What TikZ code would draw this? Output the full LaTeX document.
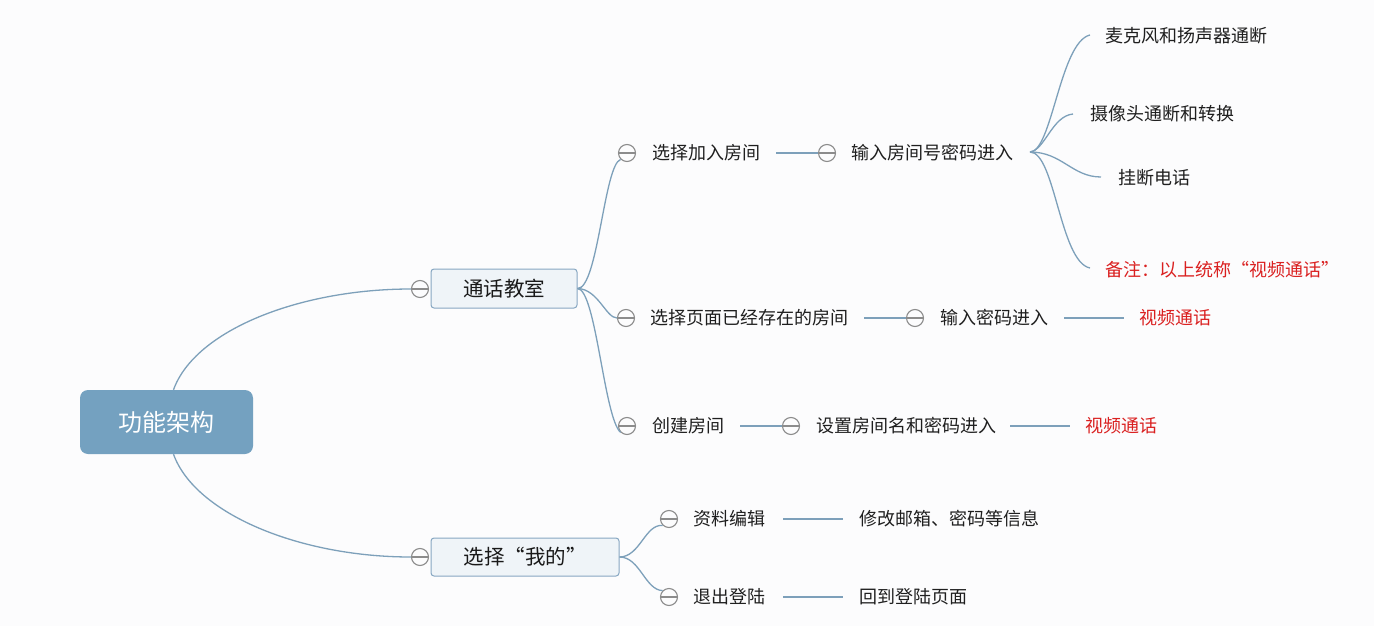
\documentclass[tikz,border=0pt]{standalone}
\usepackage{fontspec}
\newfontfamily\cjk{Noto Sans CJK SC}
\definecolor{bg}{RGB}{252,252,253}
\definecolor{lnk}{RGB}{125,160,186}
\definecolor{rootc}{RGB}{116,161,192}
\definecolor{boxf}{RGB}{239,244,248}
\definecolor{boxd}{RGB}{135,167,194}
\definecolor{cgray}{RGB}{140,140,140}
\definecolor{redt}{RGB}{218,32,32}
\tikzset{
  lk/.style={draw=lnk, line width=1.3pt},
  txt/.style={anchor=west, inner sep=0pt, font=\cjk\fontsize{18}{18}\selectfont, text=black!88},
  rtxt/.style={txt, text=redt},
  coll/.style={circle, draw=cgray, fill=bg, minimum size=17pt, inner sep=0pt, line width=1.1pt,
    path picture={\draw[cgray, line width=1.1pt] ([xshift=-8pt]path picture bounding box.center) -- ([xshift=8pt]path picture bounding box.center);}},
  topic/.style={draw=boxd, fill=boxf, rounded corners=3pt, line width=1pt, inner sep=0pt,
    font=\cjk\fontsize{20.5}{20.5}\selectfont, text=black!90},
  rootbox/.style={fill=rootc, rounded corners=8pt, inner sep=0pt, minimum width=173pt, minimum height=64pt,
    font=\cjk\fontsize{24}{24}\selectfont, text=white}
}
\begin{document}
\begin{tikzpicture}[x=1pt,y=-1pt]
\fill[bg] (0,0) rectangle (1374,626);
\useasboundingbox (0,0) rectangle (1374,626);

% root
\node[rootbox] (root) at (166.5,422) {功能架构};

% level 1
\node[topic, minimum width=146pt, minimum height=39pt] (t1) at (504,288.5) {通话教室};
\node[topic, minimum width=188pt, minimum height=38pt] (t2) at (525,557) {选择“我的”};
\node[coll] (c1) at (420,289) {};
\node[coll] (c2) at (420,557) {};

\draw[lk] ([xshift=7pt]root.north) .. controls (195,330) and (300,289) .. (c1.west);
\draw[lk] ([xshift=7pt]root.south) .. controls (195,514) and (300,557) .. (c2.west);

% level 2 under 通话教室
\node[coll] (c11) at (627,153) {};
\node[txt] (a1) at (652,153) {选择加入房间};
\node[coll] (c12) at (626,318) {};
\node[txt] (a2) at (650,318) {选择页面已经存在的房间};
\node[coll] (c13) at (627,426) {};
\node[txt] (a3) at (652,426) {创建房间};

\draw[lk] (t1.east) .. controls (598,289) and (604,165) .. (c11.south west);
\draw[lk] (t1.east) .. controls (598,289) and (606,318) .. (c12.west);
\draw[lk] (t1.east) .. controls (596,289) and (604,418) .. (c13.south west);

% branch 1
\coordinate (a1e) at (776,153);
\node[coll] (c111) at (827,153) {};
\node[txt] (b1) at (851,153) {输入房间号密码进入};
\draw[lk] (a1e) -- (c111.west);

\coordinate (b1e) at (1030,152);
\coordinate (d1s) at (1090,35);
\coordinate (d2s) at (1073,114);
\coordinate (d3s) at (1101,177);
\coordinate (d4s) at (1090,268);
\node[txt] (d1) at (1105,36) {麦克风和扬声器通断};
\node[txt] (d2) at (1090,114) {摄像头通断和转换};
\node[txt] (d3) at (1118,178) {挂断电话};
\node[rtxt] (d4) at (1105,270) {备注：以上统称“视频通话”};
\draw[lk] (b1e) .. controls (1052,152) and (1060,42) .. (d1s);
\draw[lk] (b1e) .. controls (1045,150) and (1052,116) .. (d2s);
\draw[lk] (b1e) .. controls (1062,152) and (1072,177) .. (d3s);
\draw[lk] (b1e) .. controls (1055,152) and (1060,262) .. (d4s);

% branch 2
\coordinate (a2e) at (864,318);
\node[coll] (c121) at (915,318) {};
\node[txt] (b2) at (940,318) {输入密码进入};
\draw[lk] (a2e) -- (c121.west);
\coordinate (b2e) at (1064,318);
\coordinate (e2s) at (1124,318);
\node[rtxt] (e2) at (1139,318) {视频通话};
\draw[lk] (b2e) -- (e2s);

% branch 3
\coordinate (a3e) at (740,426);
\node[coll] (c131) at (791,426) {};
\node[txt] (b3) at (816,426) {设置房间名和密码进入};
\draw[lk] (a3e) -- (c131.west);
\coordinate (b3e) at (1010,426);
\coordinate (e3s) at (1070,426);
\node[rtxt] (e3) at (1085,426) {视频通话};
\draw[lk] (b3e) -- (e3s);

% under 选择我的
\node[coll] (c21) at (669,519) {};
\node[txt] (f1) at (693,519) {资料编辑};
\node[coll] (c22) at (669,597) {};
\node[txt] (f2) at (693,597) {退出登陆};
\draw[lk] (t2.east) .. controls (640,557) and (645,524) .. (c21.south west);
\draw[lk] (t2.east) .. controls (640,557) and (645,590) .. (c22.north west);

\coordinate (f1e) at (783,519);
\coordinate (g1s) at (843,519);
\node[txt] (g1) at (859,519) {修改邮箱、密码等信息};
\draw[lk] (f1e) -- (g1s);
\coordinate (f2e) at (783,597);
\coordinate (g2s) at (843,597);
\node[txt] (g2) at (859,597) {回到登陆页面};
\draw[lk] (f2e) -- (g2s);
\end{tikzpicture}
\end{document}
